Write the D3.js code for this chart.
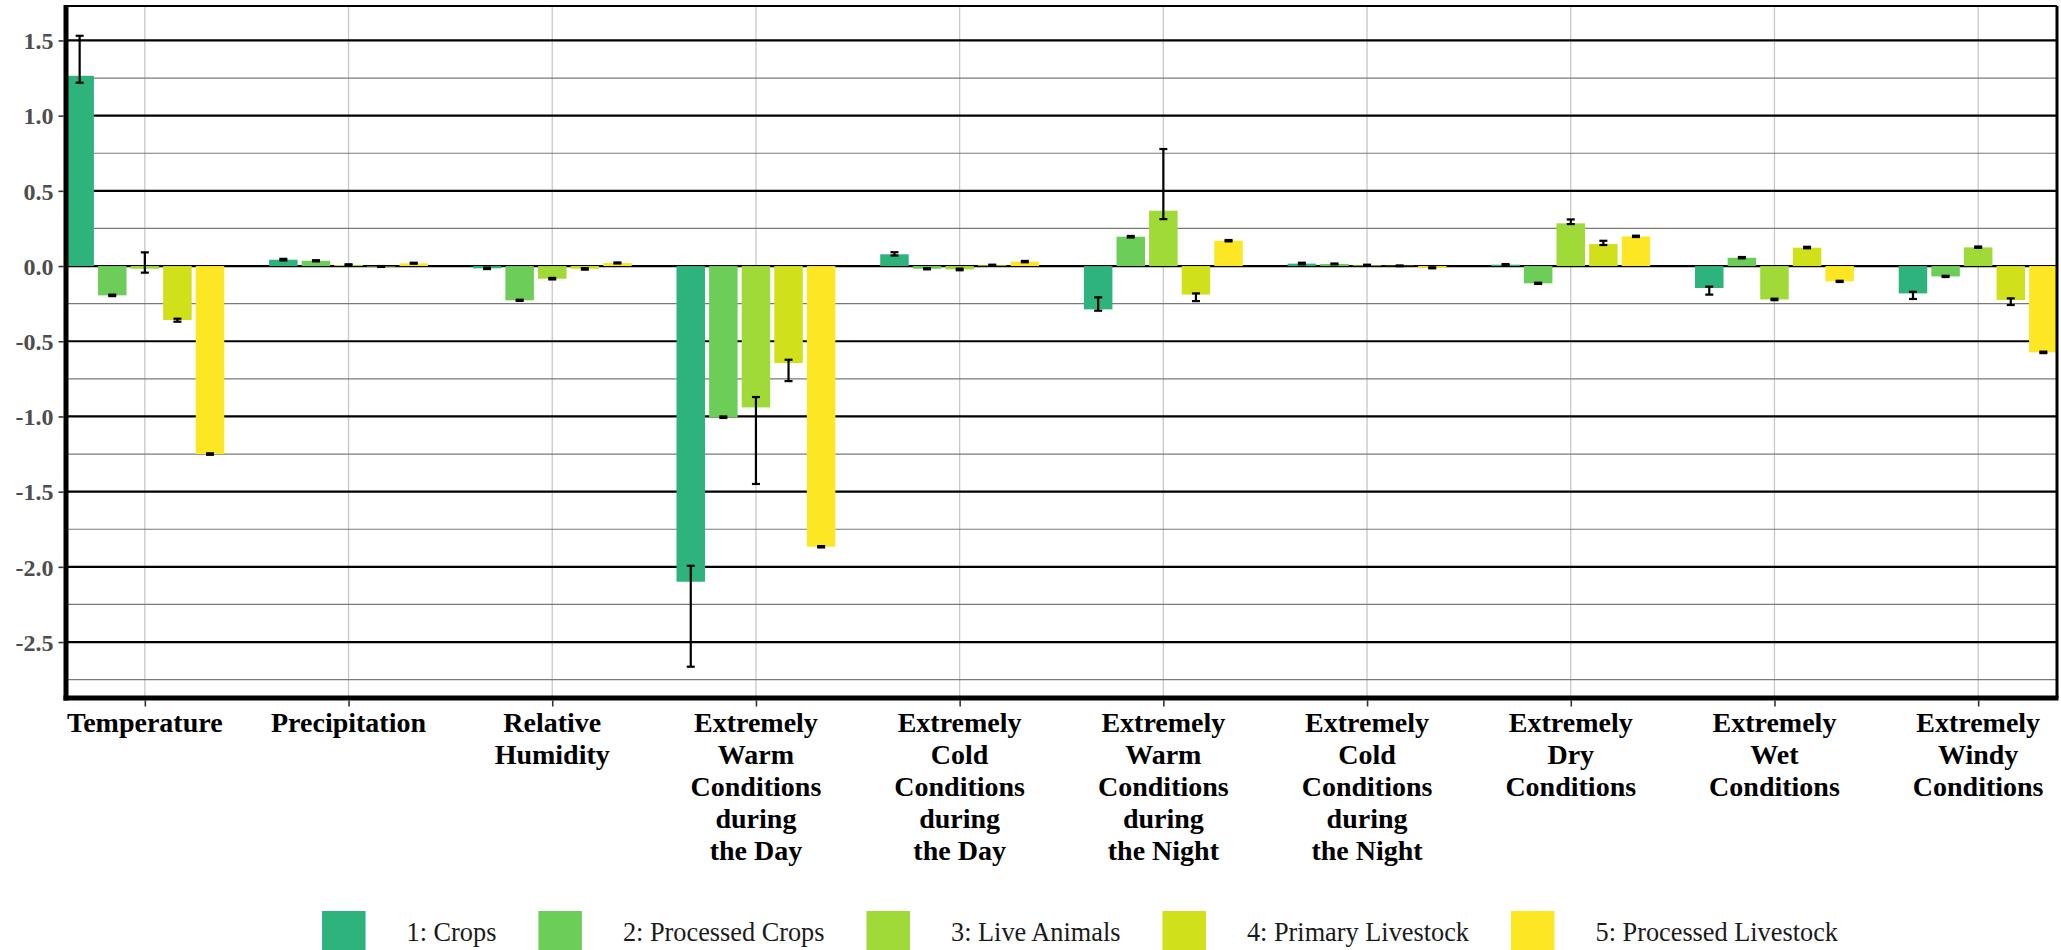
<!DOCTYPE html>
<html>
<head>
<meta charset="utf-8">
<script src="https://cdn.jsdelivr.net/npm/d3@7"></script>
<style>
  html, body { margin: 0; padding: 0; background: #ffffff; }
  svg { display: block; }
</style>
</head>
<body>
<svg id="chart" width="2061" height="950"></svg>
<script>
// Climate drivers on the x axis (line breaks mark wrapped label lines)
const categories = [
  "Temperature",
  "Precipitation",
  "Relative\nHumidity",
  "Extremely\nWarm\nConditions\nduring\nthe Day",
  "Extremely\nCold\nConditions\nduring\nthe Day",
  "Extremely\nWarm\nConditions\nduring\nthe Night",
  "Extremely\nCold\nConditions\nduring\nthe Night",
  "Extremely\nDry\nConditions",
  "Extremely\nWet\nConditions",
  "Extremely\nWindy\nConditions"
];

// Product groups
const series = ["1: Crops", "2: Processed Crops", "3: Live Animals", "4: Primary Livestock", "5: Processed Livestock"];
const seriesColors = ["#2EB37C", "#6DCD59", "#A0DA39", "#D0E11C", "#FDE725"];

// Estimated effects per product group (one value per driver)
const crops              = [1.265, 0.042, -0.015, -2.099, 0.078, -0.288, 0.016, 0.009, -0.146, -0.182];
const processedCrops     = [-0.195, 0.035, -0.228, -1.006, -0.018, 0.195, 0.014, -0.115, 0.055, -0.069];
const liveAnimals        = [-0.018, 0.007, -0.084, -0.940, -0.022, 0.368, 0.005, 0.284, -0.222, 0.124];
const primaryLivestock   = [-0.359, -0.003, -0.018, -0.645, 0.005, -0.190, 0.002, 0.146, 0.122, -0.226];
const processedLivestock = [-1.250, 0.018, 0.020, -1.866, 0.029, 0.168, -0.011, 0.197, -0.102, -0.574];

// Error bar limits (lower / upper) per product group
const cropsLow              = [1.219, 0.037, -0.020, -2.664, 0.070, -0.297, 0.011, 0.005, -0.190, -0.219];
const cropsHigh             = [1.531, 0.048, -0.010, -1.993, 0.092, -0.208, 0.022, 0.013, -0.137, -0.171];
const processedCropsLow     = [-0.200, 0.031, -0.232, -1.010, -0.022, 0.190, 0.011, -0.119, 0.051, -0.073];
const processedCropsHigh    = [-0.190, 0.039, -0.224, -1.000, -0.014, 0.200, 0.017, -0.111, 0.060, -0.065];
const liveAnimalsLow        = [-0.044, 0.004, -0.089, -1.449, -0.028, 0.312, 0.002, 0.279, -0.227, 0.121];
const liveAnimalsHigh       = [0.091, 0.012, -0.079, -0.871, -0.017, 0.778, 0.009, 0.310, -0.217, 0.130];
const primaryLivestockLow   = [-0.370, -0.006, -0.024, -0.765, 0.002, -0.233, -0.001, 0.140, 0.118, -0.259];
const primaryLivestockHigh  = [-0.350, 0.000, -0.014, -0.623, 0.009, -0.182, 0.004, 0.168, 0.128, -0.215];
const processedLivestockLow = [-1.255, 0.015, 0.017, -1.871, 0.025, 0.164, -0.015, 0.193, -0.106, -0.579];
const processedLivestockHigh= [-1.245, 0.022, 0.024, -1.862, 0.034, 0.173, -0.008, 0.202, -0.098, -0.569];

// Y axis ticks
const yTicks = [-2.5, -2.0, -1.5, -1.0, -0.5, 0.0, 0.5, 1.0, 1.5];
const yMinorTicks = [-2.75, -2.25, -1.75, -1.25, -0.75, -0.25, 0.25, 0.75, 1.25];

const values = [crops, processedCrops, liveAnimals, primaryLivestock, processedLivestock];
const lows   = [cropsLow, processedCropsLow, liveAnimalsLow, primaryLivestockLow, processedLivestockLow];
const highs  = [cropsHigh, processedCropsHigh, liveAnimalsHigh, primaryLivestockHigh, processedLivestockHigh];

// Flatten into records for drawing
const records = [];
categories.forEach((c, i) => {
  series.forEach((s, j) => {
    records.push({ category: c, series: s, value: values[j][i], low: lows[j][i], high: highs[j][i] });
  });
});

const W = 2061, H = 950;
const panel = { left: 66, right: 2057, top: 6, bottom: 698 };
const serif = "'Liberation Serif', 'Times New Roman', Times, serif";

const svg = d3.select("#chart");
svg.append("rect").attr("width", W).attr("height", H).attr("fill", "#ffffff");

// Scales
const x = d3.scalePoint()
  .domain(categories)
  .range([panel.left, panel.right])
  .padding(0.387);
const step = x.step();

const xInner = d3.scaleBand()
  .domain(series)
  .range([-0.4 * step, 0.4 * step])
  .paddingInner(0.125)
  .paddingOuter(0.0625);

const y = d3.scaleLinear()
  .domain([-2.872, 1.729])
  .range([panel.bottom, panel.top]);

const color = d3.scaleOrdinal().domain(series).range(seriesColors);
const fmt = d3.formatLocale({ decimal: ".", thousands: ",", grouping: [3], currency: ["", ""], minus: "-" }).format(".1f");

// Grid
const grid = svg.append("g");
grid.selectAll("line.vgrid")
  .data(categories)
  .join("line")
  .attr("class", "vgrid")
  .attr("x1", d => x(d)).attr("x2", d => x(d))
  .attr("y1", panel.top).attr("y2", panel.bottom)
  .attr("stroke", "#c8c8c8").attr("stroke-width", 1.3);

grid.selectAll("line.minor")
  .data(yMinorTicks)
  .join("line")
  .attr("class", "minor")
  .attr("x1", panel.left).attr("x2", panel.right)
  .attr("y1", d => y(d)).attr("y2", d => y(d))
  .attr("stroke", "#7a7a7a").attr("stroke-width", 1.2);

grid.selectAll("line.major")
  .data(yTicks)
  .join("line")
  .attr("class", "major")
  .attr("x1", panel.left).attr("x2", panel.right)
  .attr("y1", d => y(d)).attr("y2", d => y(d))
  .attr("stroke", "#000000").attr("stroke-width", 2.2);

// Bars
const groups = svg.append("g").selectAll("g")
  .data(records)
  .join("g")
  .attr("transform", d => `translate(${x(d.category) + xInner(d.series)},0)`);

groups.append("rect")
  .attr("x", 0)
  .attr("width", xInner.bandwidth())
  .attr("y", d => y(Math.max(0, d.value)))
  .attr("height", d => Math.abs(y(d.value) - y(0)))
  .attr("fill", d => color(d.series));

// Error bars
const capHalf = 4;
const errs = groups.append("g")
  .attr("transform", `translate(${xInner.bandwidth() / 2},0)`)
  .attr("stroke", "#000").attr("stroke-width", 2.2);
errs.append("line")
  .attr("x1", 0).attr("x2", 0)
  .attr("y1", d => y(d.low)).attr("y2", d => y(d.high));
errs.append("line")
  .attr("x1", -capHalf).attr("x2", capHalf)
  .attr("y1", d => y(d.low)).attr("y2", d => y(d.low));
errs.append("line")
  .attr("x1", -capHalf).attr("x2", capHalf)
  .attr("y1", d => y(d.high)).attr("y2", d => y(d.high));

// Panel border (thin top/right) and axis lines (thick left/bottom)
svg.append("line")
  .attr("x1", panel.left).attr("x2", panel.right)
  .attr("y1", panel.top).attr("y2", panel.top)
  .attr("stroke", "#000").attr("stroke-width", 2);
svg.append("line")
  .attr("x1", panel.right).attr("x2", panel.right)
  .attr("y1", panel.top).attr("y2", panel.bottom)
  .attr("stroke", "#000").attr("stroke-width", 3);

// Y axis
const yAxis = d3.axisLeft(y).tickValues(yTicks).tickFormat(fmt).tickSize(5).tickPadding(5);
const gy = svg.append("g").attr("transform", `translate(${panel.left - 2.5},0)`).call(yAxis);
gy.select(".domain").remove();
gy.selectAll(".tick line").attr("stroke", "#333").attr("stroke-width", 1.6);
gy.selectAll(".tick text")
  .attr("font-family", serif).attr("font-size", 24).attr("font-weight", "bold")
  .attr("fill", "#4d4d4d").attr("dy", "0.34em");

// X axis
const xAxis = d3.axisBottom(x).tickSize(6).tickFormat("");
const gx = svg.append("g").attr("transform", `translate(0,${panel.bottom + 2.5})`).call(xAxis);
gx.select(".domain").remove();
gx.selectAll(".tick line").attr("stroke", "#333").attr("stroke-width", 1.6);

svg.append("line")
  .attr("x1", panel.left).attr("x2", panel.left)
  .attr("y1", panel.top - 1).attr("y2", panel.bottom + 2.5)
  .attr("stroke", "#000").attr("stroke-width", 5);
svg.append("line")
  .attr("x1", panel.left - 2.5).attr("x2", panel.right + 1.5)
  .attr("y1", panel.bottom).attr("y2", panel.bottom)
  .attr("stroke", "#000").attr("stroke-width", 5);

// Wrapped category labels
const labels = svg.append("g");
categories.forEach(c => {
  const t = labels.append("text")
    .attr("x", x(c))
    .attr("y", 732)
    .attr("text-anchor", "middle")
    .attr("font-family", serif).attr("font-size", 28).attr("font-weight", "bold")
    .attr("fill", "#000");
  c.split("\n").forEach((line, k) => {
    t.append("tspan").attr("x", x(c)).attr("y", 732 + k * 32).text(line);
  });
});

// Legend: one key + label per product group, laid out in a single row
const keyW = 43.5, keyH = 44, gapKeyText = 41, gapItems = 42;
const legend = svg.append("g");
const items = series.map(s => {
  const g = legend.append("g");
  g.append("rect").attr("width", keyW).attr("height", keyH).attr("y", 911).attr("fill", color(s));
  const t = g.append("text")
    .attr("x", keyW + gapKeyText).attr("y", 941)
    .attr("font-family", serif).attr("font-size", 26.3)
    .attr("fill", "#1a1a1a").text(s);
  return { g, w: keyW + gapKeyText + t.node().getComputedTextLength() };
});
const totalW = d3.sum(items, d => d.w) + gapItems * (items.length - 1);
let cx = 1080 - totalW / 2;
items.forEach(it => {
  it.g.attr("transform", `translate(${cx},0)`);
  cx += it.w + gapItems;
});
</script>
</body>
</html>
